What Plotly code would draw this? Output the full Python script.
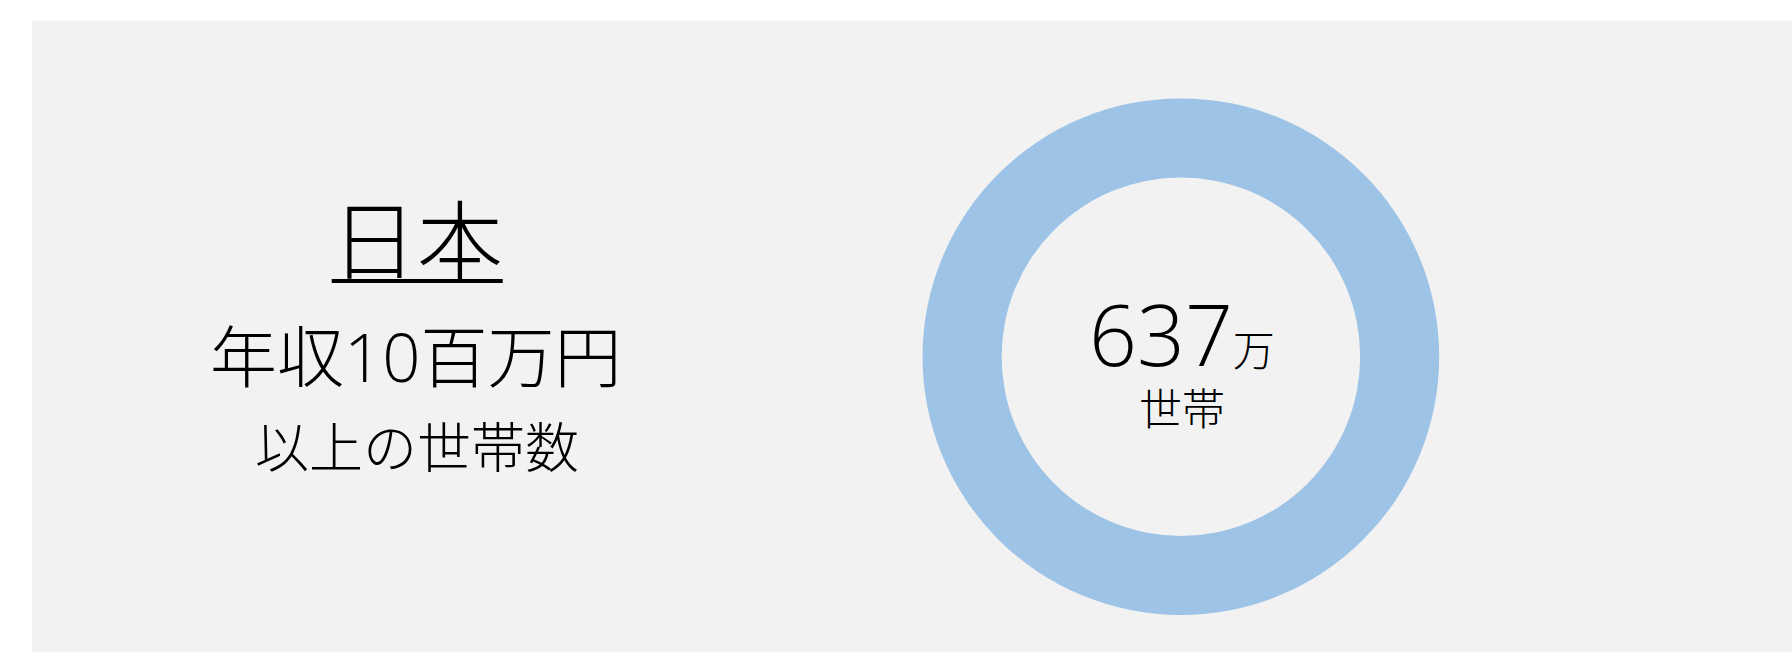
import plotly.graph_objects as go

# ---- data ----
countries = ["日本"]
title_lines = ["年収10百万円", "以上の世帯数"]
household_values = [637]          # 単位: 万世帯
value_unit = "万"
value_label = "世帯"
ring_colors = ["#9DC3E6"]

W, H = 1792, 652
JP = "Noto Sans CJK JP"
MIX = "Open Sans, Noto Sans CJK JP"
BG = "#F2F2F2"

def px_x(x):
    return x / W

def px_y(y):
    return 1 - y / H

fig = go.Figure()

fig.add_trace(go.Pie(
    values=household_values,
    labels=countries,
    hole=0.694,
    marker=dict(colors=ring_colors, line=dict(width=0)),
    textinfo="none",
    hoverinfo="label+value",
    sort=False,
    showlegend=False,
    domain=dict(x=[px_x(1180.9 - 258.3), px_x(1180.9 + 258.3)],
                y=[px_y(356.7 + 258.3), px_y(356.7 - 258.3)]),
))

# grey panel
fig.add_shape(type="rect", xref="paper", yref="paper",
              x0=px_x(32), x1=1, y0=0, y1=px_y(20.5),
              fillcolor=BG, line=dict(width=0), layer="below")

# underline of the country name
fig.add_shape(type="line", xref="paper", yref="paper",
              x0=px_x(331.7), x1=px_x(502.7), y0=px_y(281), y1=px_y(281),
              line=dict(color="black", width=4))

# left texts
fig.add_annotation(text=countries[0], xref="paper", yref="paper",
                   x=px_x(417), y=px_y(235), xanchor="center", yanchor="middle",
                   showarrow=False, font=dict(family=JP, size=86, color="black", weight=300))
fig.add_annotation(text=title_lines[0], xref="paper", yref="paper",
                   x=px_x(416), y=px_y(355.5), xanchor="center", yanchor="middle",
                   showarrow=False, font=dict(family=MIX, size=67, color="black", weight=300))
fig.add_annotation(text=title_lines[1], xref="paper", yref="paper",
                   x=px_x(417), y=px_y(445), xanchor="center", yanchor="middle",
                   showarrow=False, font=dict(family=JP, size=54, color="black", weight=300))

# center text (value + unit on line 1, label on line 2)
center_text = (f"<span style='font-size:84px'>{household_values[0]}</span>"
               f"<span style='font-size:42px'>{value_unit}</span>"
               f"<br><span style='font-size:43px'>{value_label}</span>")
fig.add_annotation(text=center_text, xref="paper", yref="paper",
                   x=px_x(1182), y=px_y(357), xanchor="center", yanchor="middle",
                   align="center",
                   showarrow=False, font=dict(family=MIX, size=45, color="black", weight=300))

fig.update_layout(
    width=W, height=H,
    margin=dict(l=0, r=0, t=0, b=0),
    paper_bgcolor="white",
    plot_bgcolor="white",
    showlegend=False,
)

fig.write_html("out.html",
               config={"displayModeBar": False},
               post_script="document.body.style.margin='0';document.body.style.overflow='hidden';")
